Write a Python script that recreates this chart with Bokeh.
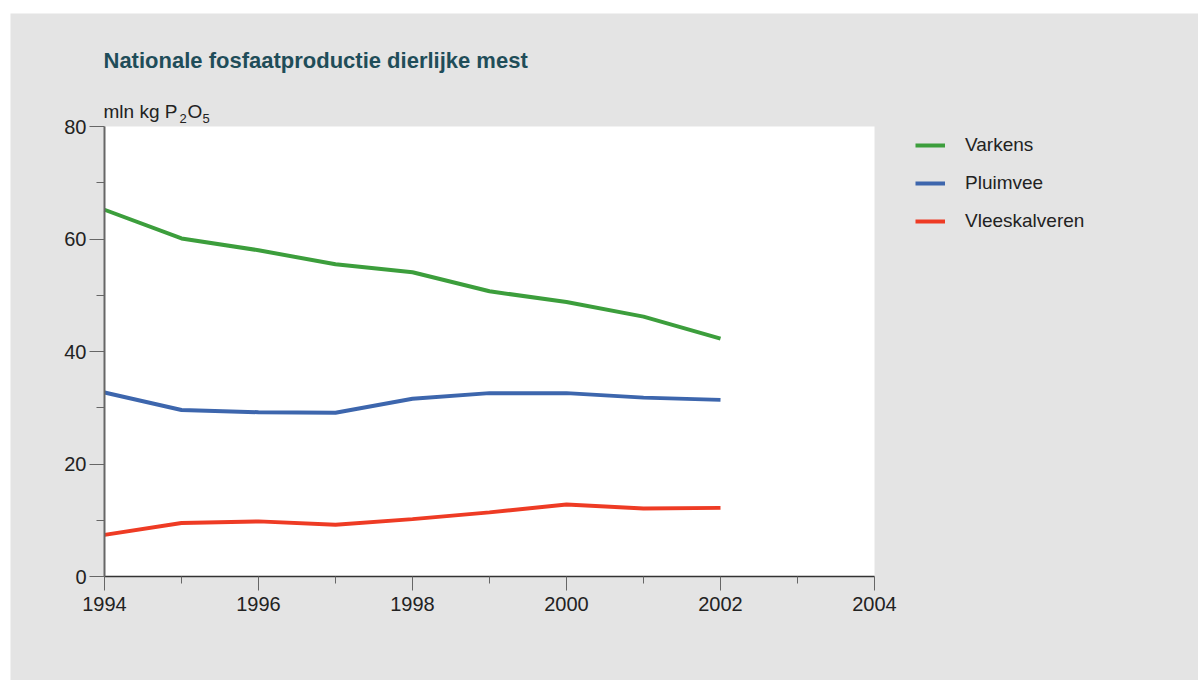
from bokeh.plotting import figure
from bokeh.models import Range1d, FixedTicker, Label, Legend, LegendItem, Spacer, BoxAnnotation
from bokeh.layouts import column, row
from bokeh.embed import file_html
from bokeh.resources import INLINE

years = [1994, 1995, 1996, 1997, 1998, 1999, 2000, 2001, 2002]
varkens = [65.2, 60.1, 58.0, 55.5, 54.1, 50.7, 48.8, 46.2, 42.3]
pluimvee = [32.7, 29.6, 29.2, 29.1, 31.6, 32.6, 32.6, 31.8, 31.4]
vleeskalveren = [7.4, 9.5, 9.8, 9.2, 10.2, 11.4, 12.8, 12.1, 12.2]
series_names = ["Varkens", "Pluimvee", "Vleeskalveren"]
series_colors = ["#3c9e3c", "#3d66ad", "#ee3b24"]
x_major = [1994, 1996, 1998, 2000, 2002, 2004]
x_minor = [1995, 1997, 1999, 2001, 2003]
y_major = [0, 20, 40, 60, 80]
y_minor = [10, 30, 50, 70]
title_text = "Nationale fosfaatproductie dierlijke mest"

FONT = "Liberation Sans"
GREY = "#e4e4e4"
W, H = 1188, 667
# plot area in canvas pixels
PL, PR, PT, PB = 94, 864, 113, 563
x0, x1 = x_major[0], x_major[-1]
y0, y1 = y_major[0], y_major[-1]
xs = (x1 - x0) / (PR - PL)
ys = (y1 - y0) / (PB - PT)

p = figure(width=W, height=H, output_backend="svg", toolbar_location=None,
           x_range=Range1d(x0 - PL * xs, x1 + (W - PR) * xs),
           y_range=Range1d(y0 - (H - PB) * ys, y1 + PT * ys),
           min_border=0)
p.background_fill_color = GREY
p.border_fill_color = GREY
p.outline_line_color = None
p.xgrid.visible = False
p.ygrid.visible = False

p.add_layout(BoxAnnotation(left=x0, right=x1, bottom=y0, top=y1, fill_color="white",
                           fill_alpha=1, line_color=None, level="underlay"))

items = []
for name, vals, col in zip(series_names, [varkens, pluimvee, vleeskalveren], series_colors):
    r = p.line(years, vals, line_color=col, line_width=4)
    items.append(LegendItem(label=name, renderers=[r]))

xa = p.xaxis[0]
xa.fixed_location = y0
xa.bounds = (x0, x1)
xa.ticker = FixedTicker(ticks=x_major, minor_ticks=x_minor)
xa.axis_line_color = "#333333"
xa.axis_line_width = 1.5
xa.major_tick_line_color = "#666666"
xa.minor_tick_line_color = "#666666"
xa.major_tick_out = 14
xa.major_tick_in = 0
xa.minor_tick_out = 7
xa.minor_tick_in = 0
xa.major_label_standoff = 6
xa.major_label_text_font = FONT
xa.major_label_text_font_size = "20px"
xa.major_label_text_color = "#222222"

ya = p.yaxis[0]
ya.fixed_location = x0
ya.bounds = (y0, y1)
ya.ticker = FixedTicker(ticks=y_major, minor_ticks=y_minor)
ya.axis_line_color = "#666666"
ya.axis_line_width = 2
ya.major_tick_line_color = "#666666"
ya.minor_tick_line_color = "#666666"
ya.major_tick_out = 15
ya.major_tick_in = 0
ya.minor_tick_out = 8
ya.minor_tick_in = 0
ya.major_label_standoff = 3
ya.major_label_text_font = FONT
ya.major_label_text_font_size = "20px"
ya.major_label_text_color = "#222222"

# title
p.add_layout(Label(x=93, y=620, x_units="screen", y_units="screen", text=title_text,
                   text_font=FONT, text_font_size="22px", text_font_style="bold",
                   text_color="#1f4d59", text_baseline="alphabetic"))
# y-axis unit label  mln kg P2O5
ylab = [("mln kg P", 93, 569, "19px"), ("2", 169, 562, "13px"), ("O", 177, 569, "19px"), ("5", 192, 562, "13px")]
for t, sx, sy, fs in ylab:
    p.add_layout(Label(x=sx, y=sy, x_units="screen", y_units="screen", text=t,
                       text_font=FONT, text_font_size=fs, text_color="#222222",
                       text_baseline="alphabetic"))

legend = Legend(items=items, location=(905, 448), orientation="vertical",
                glyph_width=30, glyph_height=22, label_height=22, spacing=16,
                label_standoff=20, padding=0, margin=0,
                border_line_alpha=0, background_fill_alpha=0,
                label_text_font=FONT, label_text_font_size="19px", label_text_color="#222222")
p.add_layout(legend, "center")

layout = column(Spacer(height=13, width=1198), row(Spacer(width=10, height=H), p))
open("out.html", "w").write(file_html(layout, INLINE))
